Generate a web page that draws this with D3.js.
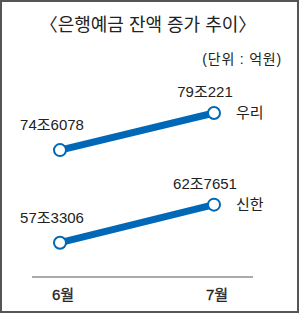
<!DOCTYPE html>
<html>
<head>
<meta charset="utf-8">
<script src="https://cdn.jsdelivr.net/npm/d3@7"></script>
<style>
  body { margin: 0; background: #fff; }
  text { font-family: "Liberation Sans", "Noto Sans CJK KR", sans-serif; fill: #222; }
</style>
</head>
<body>
<svg id="chart" width="300" height="316"></svg>
<script>
// months on x, deposit balance in 조 (trillion won)
var months = ["6월", "7월"];
var banks = ["우리", "신한"];
var wooriValues = [74.6078, 79.0221];
var shinhanValues = [57.3306, 62.7651];
var wooriLabels = ["74조6078", "79조221"];
var shinhanLabels = ["57조3306", "62조7651"];

var svg = d3.select("#chart");

// frame
svg.append("rect")
  .attr("x", 1).attr("y", 1)
  .attr("width", 297).attr("height", 311)
  .attr("fill", "#fff")
  .attr("stroke", "#555")
  .attr("stroke-width", 2);

svg.append("text")
  .attr("x", 148).attr("y", 31)
  .attr("text-anchor", "middle")
  .style("font-size", "18px")
  .text("〈은행예금 잔액 증가 추이〉");

svg.append("text")
  .attr("x", 282).attr("y", 64)
  .attr("text-anchor", "end")
  .style("font-size", "14px")
  .style("letter-spacing", "0.8px")
  .text("(단위 : 억원)");

var x = d3.scalePoint()
  .domain(months)
  .range([60, 214]);

// broken value axis: the gap between 65 and 72 is squeezed
var y = d3.scaleLinear()
  .domain([55, 65, 72, 82])
  .range([259, 189, 172, 88]);

// baseline axis
svg.append("line")
  .attr("x1", 32).attr("x2", 253)
  .attr("y1", 277).attr("y2", 277)
  .attr("stroke", "#555")
  .attr("stroke-width", 1);

svg.selectAll(".month")
  .data(months)
  .enter().append("text")
  .attr("class", "month")
  .attr("x", function(d) { return x(d) + 3; })
  .attr("y", 300)
  .attr("text-anchor", "middle")
  .style("font-size", "15px")
  .style("stroke", "#222")
  .style("stroke-width", "0.3px")
  .text(function(d) { return d; });

var series = [
  { name: banks[0], values: wooriValues, labels: wooriLabels },
  { name: banks[1], values: shinhanValues, labels: shinhanLabels }
];

var line = d3.line()
  .x(function(d, i) { return x(months[i]); })
  .y(function(d) { return y(d); });

series.forEach(function(s) {
  svg.append("path")
    .attr("d", line(s.values))
    .attr("fill", "none")
    .attr("stroke", "#0068b7")
    .attr("stroke-width", 7);

  svg.selectAll(null)
    .data(s.values)
    .enter().append("circle")
    .attr("cx", function(d, i) { return x(months[i]); })
    .attr("cy", function(d) { return y(d); })
    .attr("r", 6)
    .attr("fill", "#fff")
    .attr("stroke", "#0068b7")
    .attr("stroke-width", 2);

  // value labels above each point
  svg.selectAll(null)
    .data(s.labels)
    .enter().append("text")
    .attr("x", function(d, i) { return x(months[i]) - (i === 0 ? 8 : 9); })
    .attr("y", function(d, i) { return y(s.values[i]) - (i === 0 ? 20 : 16); })
    .attr("text-anchor", "middle")
    .style("font-size", "15px")
    .text(function(d) { return d; });

  svg.append("text")
    .attr("x", x(months[1]) + 22)
    .attr("y", y(s.values[1]) + 5)
    .style("font-size", "15px")
    .text(s.name);
});
</script>
</body>
</html>
